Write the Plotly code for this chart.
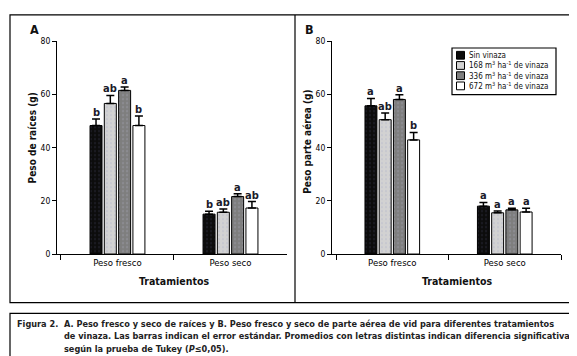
import plotly.graph_objects as go

# ---------------- data ----------------
categories = ["Peso fresco", "Peso seco"]
treatments = ["Sin vinaza",
              "168 m<sup>3</sup> ha<sup>-1</sup> de vinaza",
              "336 m<sup>3</sup> ha<sup>-1</sup> de vinaza",
              "672 m<sup>3</sup> ha<sup>-1</sup> de vinaza"]

# Panel A: Peso de raíces (g)  [Peso fresco, Peso seco]
raices_sin = [48.3, 15.0]
raices_168 = [56.6, 15.7]
raices_336 = [61.5, 21.6]
raices_672 = [48.3, 17.3]
raices_err_sin = [2.5, 1.1]
raices_err_168 = [3.0, 1.2]
raices_err_336 = [1.3, 1.1]
raices_err_672 = [3.6, 2.4]
raices_let_sin = ["b", "b"]
raices_let_168 = ["ab", "ab"]
raices_let_336 = ["a", "a"]
raices_let_672 = ["b", "ab"]

# Panel B: Peso parte aérea (g)
aerea_sin = [55.7, 18.0]
aerea_168 = [50.5, 15.5]
aerea_336 = [58.1, 16.6]
aerea_672 = [42.9, 15.8]
aerea_err_sin = [2.8, 1.4]
aerea_err_168 = [2.5, 0.7]
aerea_err_336 = [1.8, 0.6]
aerea_err_672 = [2.8, 1.4]
aerea_let_sin = ["a", "a"]
aerea_let_168 = ["ab", "a"]
aerea_let_336 = ["a", "a"]
aerea_let_672 = ["b", "a"]

y_ticks = [0, 20, 40, 60, 80]

# ---------------- styles ----------------
W, H = 577, 356
FONT = "Liberation Sans Narrow, Arial Narrow, DejaVu Sans Condensed, sans-serif"
BAR_COLORS = ["#0c0c0c", "#d2d2d2", "#7e7e7e", "#ffffff"]
DOT_COLORS = ["#2a2a3a", "#b9bccc", "#9a9aa6", "#ffffff"]
BARGAP = 0.494
BARGROUPGAP = 0.16
SLOT = (1 - BARGAP) / 4


def px(x):
    return x / W


def py(y):
    return 1 - y / H


fig = go.Figure()

panels = [
    dict(means=[raices_sin, raices_168, raices_336, raices_672],
         errs=[raices_err_sin, raices_err_168, raices_err_336, raices_err_672],
         lets=[raices_let_sin, raices_let_168, raices_let_336, raices_let_672],
         xa="x", ya="y"),
    dict(means=[aerea_sin, aerea_168, aerea_336, aerea_672],
         errs=[aerea_err_sin, aerea_err_168, aerea_err_336, aerea_err_672],
         lets=[aerea_let_sin, aerea_let_168, aerea_let_336, aerea_let_672],
         xa="x2", ya="y2"),
]

annotations = []
for p in panels:
    for k in range(4):
        fig.add_trace(go.Bar(
            x=categories, y=p["means"][k], name=treatments[k],
            xaxis=p["xa"], yaxis=p["ya"], showlegend=False,
            marker=dict(color=BAR_COLORS[k],
                        line=dict(color="black", width=1),
                        pattern=dict(shape="." if k < 3 else "",
                                     fgcolor=DOT_COLORS[k],
                                     bgcolor=BAR_COLORS[k],
                                     size=4, solidity=0.25)),
            error_y=dict(type="data", symmetric=False,
                         array=p["errs"][k], arrayminus=[0, 0],
                         color="black", thickness=1.5, width=4),
        ))
        for i in range(len(categories)):
            annotations.append(dict(
                x=i + (k - 1.5) * SLOT, y=p["means"][k][i] + p["errs"][k][i],
                xref=p["xa"], yref=p["ya"], text="<b>%s</b>" % p["lets"][k][i],
                showarrow=False, yanchor="bottom", yshift=-2,
                font=dict(family=FONT, size=11, color="#1a1a2a")))

axis_common = dict(showline=True, linecolor="black", linewidth=1,
                   ticks="outside", tickcolor="black", showgrid=False,
                   zeroline=False)

fig.update_layout(
    width=W, height=H, margin=dict(l=0, r=0, t=0, b=0),
    paper_bgcolor="white", plot_bgcolor="rgba(0,0,0,0)",
    barmode="group", bargap=BARGAP, bargroupgap=BARGROUPGAP,
    font=dict(family=FONT, color="black"),
    xaxis=dict(domain=[px(49), px(279)], type="category",
               range=[-0.535, 1.5], tickson="boundaries", ticklen=5,
               tickfont=dict(size=9.5), anchor="y", **axis_common),
    yaxis=dict(domain=[py(248), py(29)], range=[0, 80], tickvals=y_ticks,
               ticklen=4, tickfont=dict(size=8.5), anchor="x", **axis_common),
    xaxis2=dict(domain=[px(324), px(553)], type="category",
                range=[-0.536, 1.5], tickson="boundaries", ticklen=5,
                tickfont=dict(size=9.5), anchor="y2", **axis_common),
    yaxis2=dict(domain=[py(248), py(29)], range=[0, 80], tickvals=y_ticks,
                ticklen=4, tickfont=dict(size=8.5), anchor="x2", **axis_common),
)

shapes = [
    dict(type="rect", xref="paper", yref="paper", x0=px(2), x1=px(573),
         y0=py(298), y1=py(2), line=dict(color="black", width=1.2)),
    dict(type="line", xref="paper", yref="paper", x0=px(287), x1=px(287),
         y0=py(298), y1=py(2), line=dict(color="black", width=1.2)),
    dict(type="rect", xref="paper", yref="paper", x0=px(2), x1=px(573),
         y0=py(354), y1=py(309), line=dict(color="black", width=1.2)),
    # legend box
    dict(type="rect", xref="paper", yref="paper", x0=px(444), x1=px(548),
         y0=py(84), y1=py(36), line=dict(color="black", width=1.2)),
]

leg_rows = [43.5, 54, 64.5, 75]
for k in range(4):
    yc = leg_rows[k]
    shapes.append(dict(type="rect", xref="paper", yref="paper",
                       x0=px(448.5), x1=px(456.5), y0=py(yc + 4), y1=py(yc - 4),
                       fillcolor=BAR_COLORS[k],
                       line=dict(color="black", width=1)))
    annotations.append(dict(x=px(458.5), y=py(yc), xref="paper", yref="paper",
                            text=treatments[k], showarrow=False,
                            xanchor="left", yanchor="middle",
                            font=dict(family=FONT, size=8, color="#111")))

text_anns = [
    dict(x=px(26.5), y=py(17), text="<b>A</b>", size=12.5),
    dict(x=px(301.5), y=py(17), text="<b>B</b>", size=12.5),
    dict(x=px(166), y=py(276), text="<b>Tratamientos</b>", size=10.5),
    dict(x=px(449), y=py(276), text="<b>Tratamientos</b>", size=10.5),
]
for a in text_anns:
    annotations.append(dict(x=a["x"], y=a["y"], xref="paper", yref="paper",
                            text=a["text"], showarrow=False,
                            xanchor="center", yanchor="middle",
                            font=dict(family=FONT, size=a["size"], color="#111")))

annotations.append(dict(x=px(24), y=py(129), xref="paper", yref="paper",
                        text="<b>Peso de raíces (g)</b>", textangle=-90,
                        showarrow=False, xanchor="center", yanchor="middle",
                        font=dict(family=FONT, size=10, color="#111")))
annotations.append(dict(x=px(300), y=py(132.5), xref="paper", yref="paper",
                        text="<b>Peso parte aérea (g)</b>", textangle=-90,
                        showarrow=False, xanchor="center", yanchor="middle",
                        font=dict(family=FONT, size=10, color="#111")))

cap_lines = [
    "<b>A. Peso fresco y seco de raíces y B. Peso fresco y seco de parte aérea de vid para diferentes tratamientos</b>",
    "<b>de vinaza. Las barras indican el error estándar. Promedios con letras distintas indican diferencia significativa</b>",
    "<b>según la prueba de Tukey (<i>P</i>≤0,05).</b>",
]
cap_y = [319.5, 332.5, 345.5]
annotations.append(dict(x=px(7), y=py(cap_y[0]), xref="paper", yref="paper",
                        text="<b>Figura 2.</b>", showarrow=False,
                        xanchor="left", yanchor="middle",
                        font=dict(family=FONT, size=9.1, color="#222")))
for t, yy in zip(cap_lines, cap_y):
    annotations.append(dict(x=px(54), y=py(yy), xref="paper", yref="paper",
                            text=t, showarrow=False,
                            xanchor="left", yanchor="middle",
                            font=dict(family=FONT, size=9.1, color="#222")))

fig.update_layout(shapes=shapes, annotations=annotations)
fig.write_html("out.html")
